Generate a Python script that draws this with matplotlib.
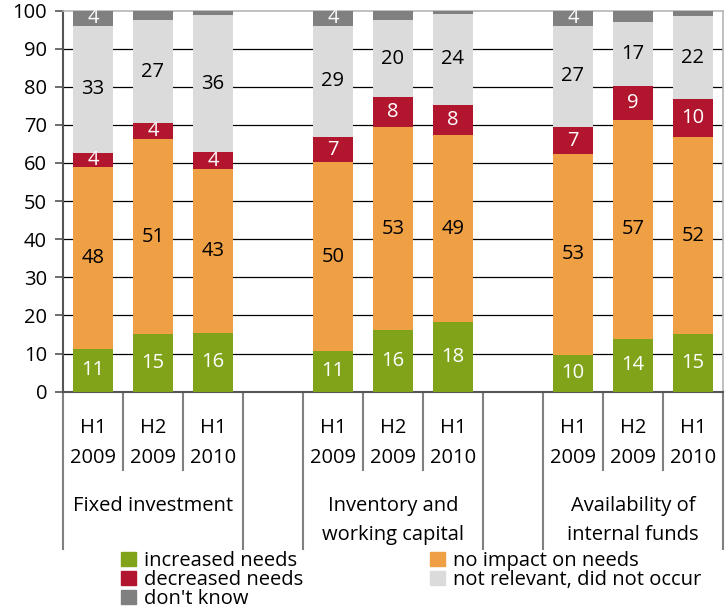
import matplotlib.pyplot as plt
import matplotlib.transforms as mtransforms
from matplotlib.patches import Patch
import numpy as np

plt.rcParams['font.family'] = ['Open Sans', 'DejaVu Sans']

groups = ['Fixed investment', 'Inventory and\nworking capital', 'Availability of\ninternal funds']
periods = [('H1', '2009'), ('H2', '2009'), ('H1', '2010')]

# per bar: FI H1-09, H2-09, H1-10 | IWC ... | AIF ...
increased = [11.3, 15.1, 15.5, 10.6, 16.1, 18.2, 9.7, 13.9, 15.1]
no_impact = [47.7, 51.1, 42.9, 49.6, 53.3, 49.1, 52.6, 57.4, 51.7]
decreased = [3.6, 4.2, 4.4, 6.6, 7.8, 7.8, 7.1, 9.0, 9.9]
not_relevant = [33.4, 27.1, 35.9, 29.2, 20.3, 24.1, 26.6, 16.7, 21.9]
dont_know = [4.0, 2.5, 1.3, 4.0, 2.5, 0.8, 4.0, 3.0, 1.4]

series = [
    ('increased needs', increased, '#80A31A', 'white'),
    ('no impact on needs', no_impact, '#F0A044', 'black'),
    ('decreased needs', decreased, '#B2152E', 'white'),
    ('not relevant, did not occur', not_relevant, '#DBDBDB', 'black'),
    ("don't know", dont_know, '#808080', 'white'),
]

# 3 bars per group, one empty slot between groups
xpos = np.array([0, 1, 2, 4, 5, 6, 8, 9, 10])

fig = plt.figure(figsize=(7.27, 6.09), dpi=100)
ax = fig.add_axes([63 / 727, (609 - 391.7) / 609, 660 / 727, 381.2 / 609])

fs = 14.5
bottom = np.zeros(len(xpos))
handles = {}
for name, vals, color, tcolor in series:
    vals = np.array(vals)
    bars = ax.bar(xpos, vals, width=0.68, bottom=bottom, color=color, zorder=3)
    handles[name] = Patch(color=color)
    for x, b, v in zip(xpos, bottom, vals):
        if name == "don't know" and v < 3.5:
            continue
        ax.text(x, b + v / 2, f'{v:.0f}', ha='center', va='center',
                color=tcolor, fontsize=fs, zorder=4)
    bottom += vals

ax.set_xlim(-0.5, 10.5)
ax.set_ylim(0, 100)
ax.set_yticks(np.arange(0, 101, 10))
ax.tick_params(axis='y', labelsize=fs, length=5.5, width=1.2, color='#555555', pad=6)
ax.set_xticks([])
for y in range(10, 100, 10):
    ax.axhline(y, color='black', lw=0.9, zorder=1)

for s in ['left', 'bottom']:
    ax.spines[s].set_color('#555555')
    ax.spines[s].set_linewidth(1.5)
for s in ['top', 'right']:
    ax.spines[s].set_color('#B5B5B5')
    ax.spines[s].set_linewidth(1.2)

# multi-level category axis
trans = mtransforms.blended_transform_factory(ax.transData, ax.transAxes)
inner_y = -(470 - 391.7) / 381.2
outer_y = -(549 - 391.7) / 381.2
for b in np.arange(-0.5, 11, 1):
    outer = b in (-0.5, 2.5, 3.5, 6.5, 7.5, 10.5)
    ax.plot([b, b], [0, outer_y if outer else inner_y], transform=trans,
            color='#808080', lw=1.5, clip_on=False)

y1 = -(428 - 391.7) / 381.2
y2 = -(458 - 391.7) / 381.2
for x, (h, yr) in zip(xpos, periods * 3):
    ax.text(x, y1, h, transform=trans, ha='center', va='center', fontsize=fs)
    ax.text(x, y2, yr, transform=trans, ha='center', va='center', fontsize=fs)

g1 = -(506 - 391.7) / 381.2
g2 = -(535 - 391.7) / 381.2
for gi, g in enumerate(groups):
    lines = g.split('\n')
    for li, line in enumerate(lines):
        ax.text(4 * gi + 1, [g1, g2][li], line, transform=trans,
                ha='center', va='center', fontsize=fs)

order = ['increased needs', 'decreased needs', "don't know",
         'no impact on needs', 'not relevant, did not occur']
fig.legend([handles[k] for k in order], order, ncol=2, frameon=False,
           loc='upper left', bbox_to_anchor=(121 / 727, (609 - 551) / 609),
           fontsize=fs, handlelength=0.75, handleheight=0.75, handletextpad=0.4,
           labelspacing=-0.05, columnspacing=6.3, borderpad=0, borderaxespad=0)

plt.savefig('out.png', dpi=100)
